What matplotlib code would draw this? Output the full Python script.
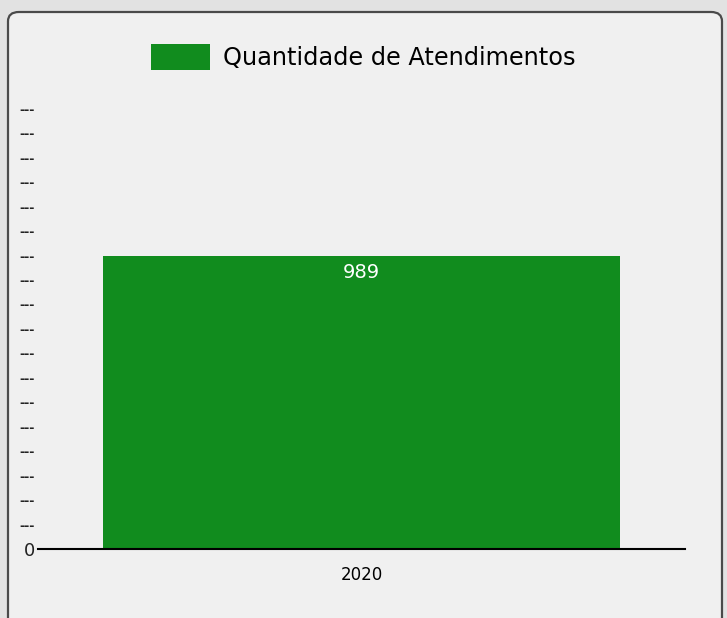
import numpy as np
import matplotlib.pyplot as plt
from matplotlib.patches import FancyBboxPatch

anos = ["2020"]
atendimentos = [989]
serie = "Quantidade de Atendimentos"
passo = 82.5  # step between the y ticks (labels are shown as "---")
n_ticks = 19
ytick_labels = ["0"] + ["---"] * (n_ticks - 1)

verde = "#118c1e"
fundo = "#f0f0f0"

fig = plt.figure(figsize=(7.27, 6.18), dpi=100)
fig.patch.set_facecolor("#e2e2e2")

# painel arredondado
W, H = 727, 618
painel = FancyBboxPatch((8 / W, -0.05), 714 / W, (H - 12) / H + 0.05,
                        boxstyle="round,pad=0,rounding_size=0.015",
                        transform=fig.transFigure, facecolor=fundo,
                        edgecolor="#4a4a4a", linewidth=1.6, zorder=-5)
fig.patches.append(painel)

ax = fig.add_axes([38 / W, 69 / H, 647 / W, 449 / H])
ax.set_facecolor("none")

x = np.arange(len(anos))
barras = ax.bar(x, atendimentos, width=0.8, color=verde, label=serie)
ax.set_xlim(-0.5, 0.5)
ax.set_ylim(0, passo * (n_ticks - 1) + 30)

for b, v in zip(barras, atendimentos):
    ax.text(b.get_x() + b.get_width() / 2, v - 24, str(v), ha="center", va="top",
            color="white", fontsize=14)

ax.set_xticks(x)
ax.set_xticklabels(anos, fontsize=12)
ax.tick_params(axis="x", length=0, pad=12)

ticks = np.arange(n_ticks) * passo
ax.set_yticks(ticks)
ax.set_yticklabels(ytick_labels)
ax.tick_params(axis="y", length=0, pad=2)
for i, lbl in enumerate(ax.get_yticklabels()):
    if i == 0:
        lbl.set_fontsize(13)
    else:
        lbl.set_fontsize(9)
        lbl.set_fontweight("bold")
    lbl.set_color("#222222")

for s in ["top", "right", "left"]:
    ax.spines[s].set_visible(False)
ax.spines["bottom"].set_linewidth(1.5)

fig.legend(loc="center", bbox_to_anchor=(0.5, 1 - 57 / H), frameon=False,
           fontsize=17.3, handlelength=2.45, handleheight=1.3, handletextpad=0.55)

fig.savefig("out.png", dpi=100, facecolor=fig.get_facecolor())
